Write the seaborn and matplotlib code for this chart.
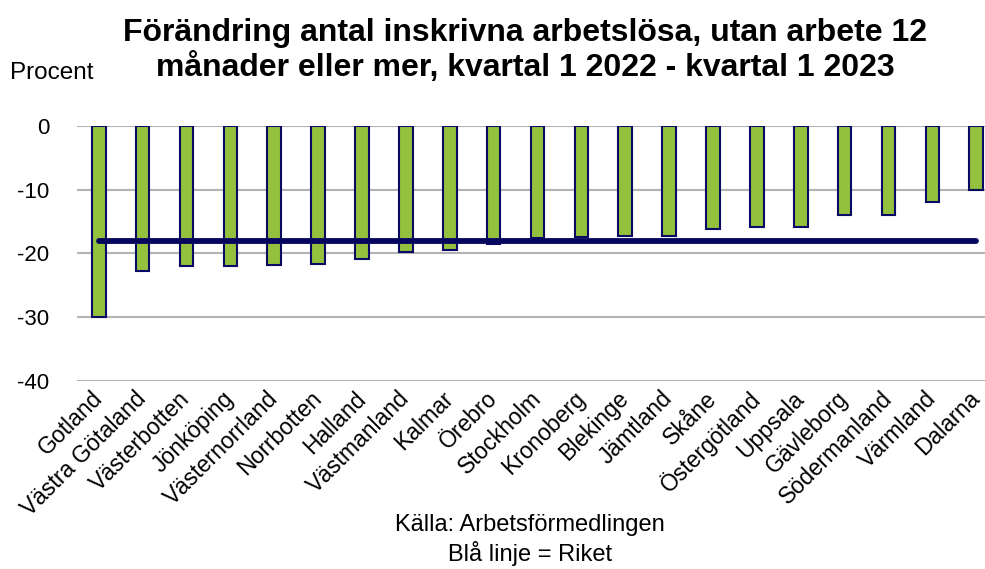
import numpy as np
import pandas as pd
import seaborn as sns
import matplotlib.pyplot as plt

regions = ['Gotland', 'Västra Götaland', 'Västerbotten', 'Jönköping', 'Västernorrland',
           'Norrbotten', 'Halland', 'Västmanland', 'Kalmar', 'Örebro', 'Stockholm',
           'Kronoberg', 'Blekinge', 'Jämtland', 'Skåne', 'Östergötland', 'Uppsala',
           'Gävleborg', 'Södermanland', 'Värmland', 'Dalarna']
change = [-30.0, -22.8, -22.0, -21.9, -21.8, -21.7, -20.9, -19.8, -19.4, -18.5, -17.6,
          -17.4, -17.3, -17.2, -16.2, -15.9, -15.9, -14.0, -13.9, -11.9, -10.0]
riket = -18.0

df = pd.DataFrame({'region': regions, 'change': change})
df['riket'] = riket

sns.set_theme(style='white')
plt.rcParams['font.family'] = ['Liberation Sans', 'DejaVu Sans']
plt.rcParams['axes.unicode_minus'] = False
plt.rcParams['text.color'] = 'black'
plt.rcParams['xtick.color'] = 'black'
plt.rcParams['ytick.color'] = 'black'

fig = plt.figure(figsize=(9.85, 5.69), dpi=100)
ax = fig.add_axes([0.078, 0.330, 0.922, 0.449])

sns.barplot(data=df, x='region', y='change', color='#93C13D', saturation=1,
            edgecolor='#0A0A64', linewidth=1.5, width=0.31, ax=ax, zorder=2)
sns.lineplot(data=df, x='region', y='riket', color='#06065E', linewidth=4.2,
             solid_capstyle='round', ax=ax, zorder=3)

ax.set_ylim(-40, 0)
ax.set_xlim(-0.5, 20.2)
ax.set_yticks([0, -10, -20, -30, -40])
ax.yaxis.grid(True, color='#B3B3B3', linewidth=1.5, zorder=0)
ax.set_axisbelow(True)
for s in ax.spines.values():
    s.set_visible(False)
ax.tick_params(axis='y', labelsize=16, pad=20, length=0)
ax.tick_params(axis='x', labelsize=16.5, pad=10, length=0)
ax.set_xticks(range(len(regions)))
ax.set_xticklabels(regions, rotation=45, ha='right', va='center', rotation_mode='anchor')
ax.set_xlabel('')
ax.set_ylabel('')

fig.text(0.533, 0.911, 'Förändring antal inskrivna arbetslösa, utan arbete 12\nmånader eller mer, kvartal 1 2022 - kvartal 1 2023',
         ha='center', va='center', fontsize=23, fontweight='bold', linespacing=1.18)
fig.text(0.010, 0.872, 'Procent', ha='left', va='center', fontsize=17.5)
fig.text(0.538, 0.077, 'Källa: Arbetsförmedlingen', ha='center', va='center', fontsize=17)
fig.text(0.538, 0.028, 'Blå linje = Riket', ha='center', va='center', fontsize=17)

fig.savefig('out.png', dpi=100)
